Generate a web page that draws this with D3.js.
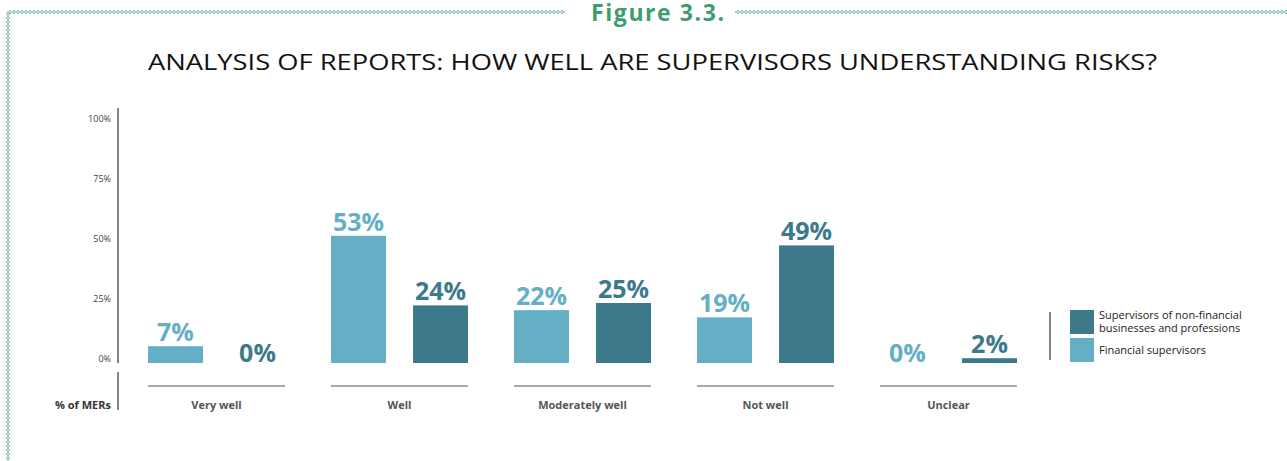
<!DOCTYPE html>
<html><head><meta charset="utf-8">
<script src="https://cdn.jsdelivr.net/npm/d3@7"></script>
<style>
html,body{margin:0;padding:0;background:#fff;}
svg{display:block;font-family:"Open Sans","Noto Sans",sans-serif;}
</style></head>
<body>
<svg id="chart" width="1287" height="461"></svg>
<script>
const categories = ["Very well","Well","Moderately well","Not well","Unclear"];
const seriesNames = ["Financial supervisors","Supervisors of non-financial businesses and professions"];
const financial = [7,53,22,19,0];
const nonFinancial = [0,24,25,49,2];
const yTicks = [0,25,50,75,100];
const title = "ANALYSIS OF REPORTS: HOW WELL ARE SUPERVISORS UNDERSTANDING RISKS?";
const figLabel = "Figure 3.3.";
const axisLabel = "% of MERs";

const colors = {fin:"#64AFC6", non:"#3C7A8B", green:"#3E9C70"};
const svg = d3.select("#chart");

// decorative border pattern
const defs = svg.append("defs");
const ph = defs.append("pattern").attr("id","dh").attr("patternUnits","userSpaceOnUse")
  .attr("width",4).attr("height",6).attr("x",0).attr("y",9);
ph.append("path").attr("d","M0.5,3 L2,1.2 L3.5,3 L2,4.8 Z").attr("fill","none").attr("stroke",colors.green).attr("stroke-width",0.8);
const pv = defs.append("pattern").attr("id","dv").attr("patternUnits","userSpaceOnUse")
  .attr("width",6).attr("height",4).attr("x",5).attr("y",0);
pv.append("path").attr("d","M3,0.5 L4.8,2 L3,3.5 L1.2,2 Z").attr("fill","none").attr("stroke",colors.green).attr("stroke-width",0.8);
svg.append("rect").attr("x",9).attr("y",9).attr("width",556).attr("height",6).attr("fill","url(#dh)");
svg.append("rect").attr("x",735).attr("y",9).attr("width",552).attr("height",6).attr("fill","url(#dh)");
svg.append("rect").attr("x",5).attr("y",11).attr("width",6).attr("height",450).attr("fill","url(#dv)");

svg.append("text").attr("x",591).attr("y",21).attr("textLength",133).attr("lengthAdjust","spacing")
  .attr("font-size",23).attr("font-weight","bold").attr("fill",colors.green).text(figLabel);

svg.append("text").attr("x",148).attr("y",70).attr("textLength",1009).attr("lengthAdjust","spacingAndGlyphs")
  .attr("font-size",22).attr("fill","#111").text(title);

// scales
const y = d3.scaleLinear().domain([0,100]).range([363,123]);
const x0 = d3.scaleBand().domain(categories).range([148,1017]).paddingInner(0.2514).paddingOuter(0);
const x1 = d3.scaleBand().domain(["fin","non"]).range([0,x0.bandwidth()]).paddingInner(0.33).paddingOuter(0);

// y axis
svg.append("line").attr("x1",118).attr("x2",118).attr("y1",108).attr("y2",363).attr("stroke","#333").attr("stroke-width",1.2);
svg.append("line").attr("x1",118).attr("x2",118).attr("y1",372).attr("y2",410).attr("stroke","#333").attr("stroke-width",1.2);
svg.selectAll(".yt").data(yTicks).join("text").attr("class","yt")
  .attr("x",111).attr("y",d=>y(d)-1).attr("text-anchor","end").attr("font-size",9).attr("fill","#444")
  .text(d=>d+"%");
svg.append("text").attr("x",111).attr("y",409).attr("text-anchor","end").attr("font-size",11)
  .attr("font-weight","bold").attr("fill","#333").text(axisLabel);

const data = categories.map((c,i)=>({cat:c, vals:[{k:"fin",v:financial[i]},{k:"non",v:nonFinancial[i]}]}));
const g = svg.selectAll(".grp").data(data).join("g").attr("class","grp")
  .attr("transform",d=>`translate(${x0(d.cat)},0)`);
g.selectAll("rect").data(d=>d.vals).join("rect")
  .attr("x",d=>x1(d.k)).attr("width",x1.bandwidth())
  .attr("y",d=>y(d.v)).attr("height",d=>y(0)-y(d.v))
  .attr("fill",d=>colors[d.k]);
g.selectAll(".vl").data(d=>d.vals).join("text").attr("class","vl")
  .attr("x",d=>x1(d.k)+x1.bandwidth()/2).attr("y",d=>d.v===0? y(0)-1 : y(d.v)-5)
  .attr("text-anchor","middle").attr("font-size",25).attr("font-weight","bold")
  .attr("fill",d=>colors[d.k]).text(d=>d.v+"%");
g.append("line").attr("x1",0).attr("x2",x0.bandwidth()).attr("y1",386).attr("y2",386)
  .attr("stroke","#555").attr("stroke-width",1.2);
g.append("text").attr("x",x0.bandwidth()/2).attr("y",409).attr("text-anchor","middle")
  .attr("font-size",11).attr("font-weight","bold").attr("fill","#555").text(d=>d.cat);

// legend
svg.append("line").attr("x1",1050).attr("x2",1050).attr("y1",312).attr("y2",360).attr("stroke","#333").attr("stroke-width",1.2);
const leg = [{k:"non",lines:["Supervisors of non-financial","businesses and professions"],y:310},
             {k:"fin",lines:["Financial supervisors"],y:338}];
const lg = svg.selectAll(".lg").data(leg).join("g").attr("class","lg");
lg.append("rect").attr("x",1070).attr("y",d=>d.y).attr("width",24).attr("height",24).attr("fill",d=>colors[d.k]);
lg.each(function(d){
  d.lines.forEach((ln,i)=>{
    d3.select(this).append("text").attr("font-size",11).attr("fill","#222")
      .attr("x",1099).attr("y",d.lines.length>1? d.y+9+i*12.5 : d.y+16).text(ln);
  });
});
</script>
</body></html>
